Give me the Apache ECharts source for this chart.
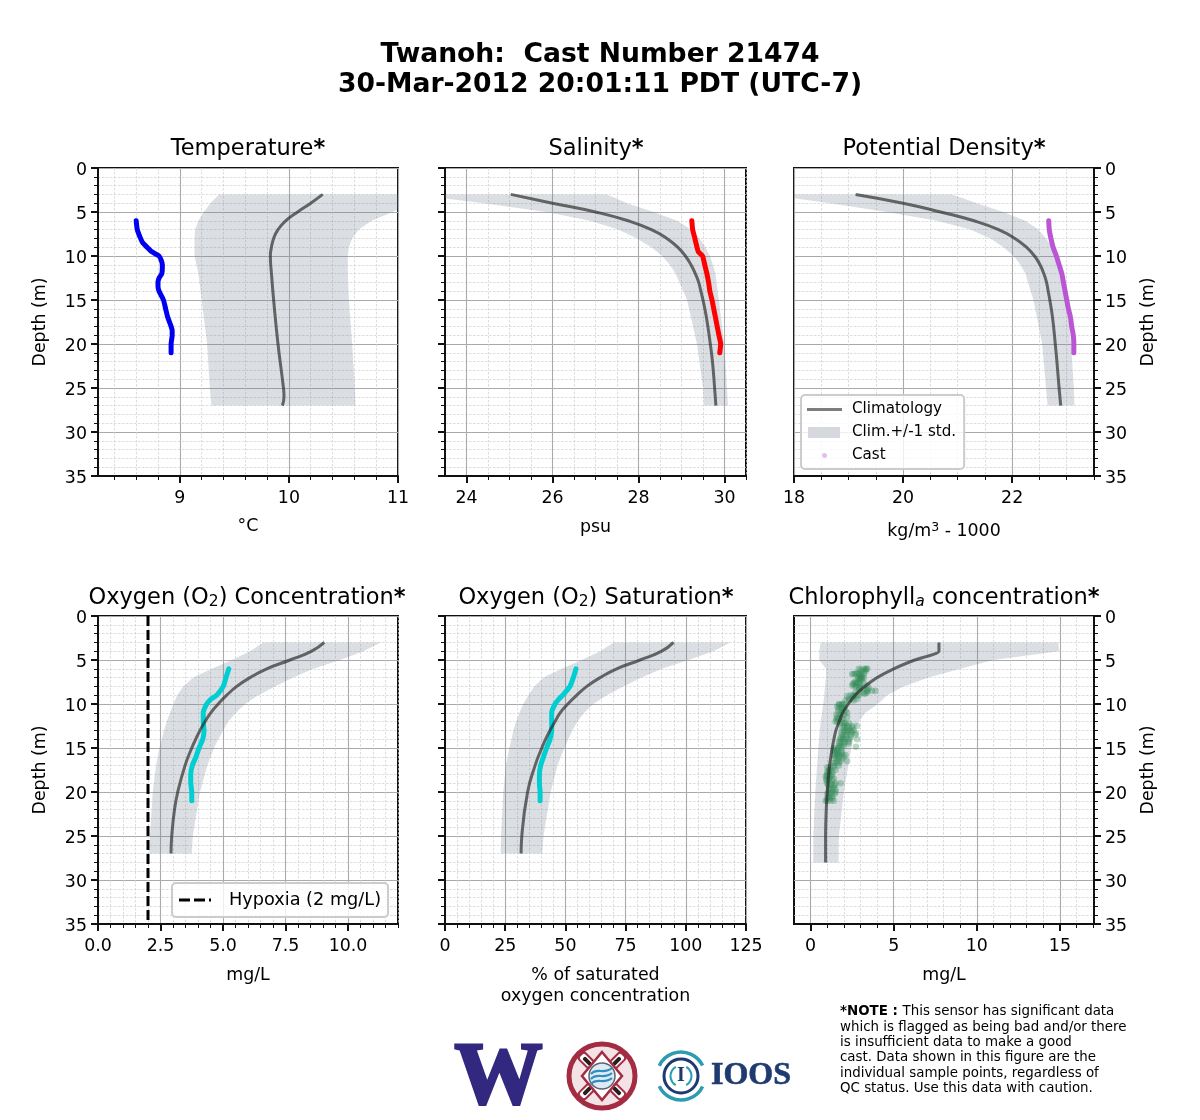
<!DOCTYPE html>
<html><head><meta charset="utf-8">
<style>html,body{margin:0;padding:0;background:#fff}#c{width:1200px;height:1120px}</style>
<script src="https://cdn.jsdelivr.net/npm/echarts@6/dist/echarts.min.js"></script>
</head><body><div id="c"></div>
<script>
const chartTitle1 = 'Twanoh:  Cast Number 21474';
const chartTitle2 = '30-Mar-2012 20:01:11 PDT (UTC-7)';

// Temperature
const tempClimDepth = [3,4,5,6,7,8,9,10,12,15,20,25,26,27];
const tempClim = [10.31,10.2,10.08,9.97,9.9,9.86,9.84,9.83,9.84,9.86,9.9,9.95,9.955,9.94];
const tempBandDepth = [3,4,4.7,5,6,7,8,9,10,12,15,20,25,27];
const tempLow = [9.36,9.28,9.24,9.22,9.17,9.14,9.135,9.135,9.135,9.17,9.2,9.25,9.275,9.29];
const tempHigh = [11.4,11.2,11.0,10.95,10.76,10.64,10.58,10.55,10.54,10.54,10.55,10.58,10.605,10.61];
const tempCastDepth = [6,7,8,8.5,9,9.5,10,10.5,11,12,12.5,13,13.5,14,15,16,17,18,18.5,19,20,21];
const tempCast = [8.6,8.61,8.64,8.66,8.7,8.74,8.81,8.83,8.84,8.835,8.81,8.8,8.8,8.81,8.85,8.87,8.89,8.92,8.93,8.93,8.92,8.92];

// Salinity
const salClimDepth = [3,4,5,6,7,8,9,10,11,12,13,14,15,17,20,22,25,27];
const salClim = [25.03,26,27,27.76,28.3,28.66,28.91,29.09,29.22,29.32,29.4,29.45,29.5,29.58,29.67,29.72,29.77,29.8];
const salBandDepth = [3,3.45,4,5,6,7,8,9,10,11,12,15,20,25,27];
const salLow = [23.2,23.49,24.4,25.85,26.87,27.53,27.96,28.3,28.55,28.73,28.86,29.13,29.36,29.5,29.52];
const salHigh = [27.26,27.48,27.73,28.35,28.9,29.22,29.42,29.56,29.66,29.73,29.79,29.87,29.99,30.06,30.08];
const salCastDepth = [6,7,8,9,9.5,10,11,12,13,14,15,16,17,18,19,20,21];
const salCast = [29.24,29.26,29.31,29.36,29.39,29.49,29.54,29.59,29.63,29.66,29.71,29.75,29.79,29.83,29.87,29.91,29.89];

// Potential density
const denClimDepth = [3,4,5,6,7,8,9,10,11,12,13,14,15,17,20,22,25,27];
const denClim = [19.13,20,20.69,21.3,21.75,22.05,22.26,22.41,22.51,22.58,22.63,22.66,22.69,22.74,22.79,22.82,22.86,22.89];
const denBandDepth = [3,3.45,4,5,6,7,8,9,10,11,12,15,20,25,27];
const denLow = [17.7,18,18.66,19.7,20.62,21.23,21.6,21.84,22.03,22.15,22.24,22.39,22.55,22.62,22.65];
const denHigh = [20.89,21.1,21.35,21.84,22.24,22.48,22.62,22.73,22.82,22.87,22.91,23,23.08,23.13,23.14];
const denCastDepth = [6,7,8,9,9.5,10,11,12,13,14,15,16,17,18,19,20,21];
const denCast = [22.67,22.68,22.71,22.75,22.78,22.81,22.86,22.91,22.94,22.97,23,23.03,23.07,23.09,23.12,23.13,23.13];

// Oxygen concentration
const oxcClimDepth = [3,4,5,6,7,8,9,10,11,12,13,14,15,17,20,22,25,27];
const oxcClim = [9.05,8.55,7.68,6.75,6.08,5.55,5.15,4.81,4.51,4.28,4.08,3.91,3.75,3.48,3.19,3.06,2.95,2.92];
const oxcBandDepth = [3,4,5,6,7,8,9,10,11,12,13,14,15,17,20,25,27];
const oxcLow = [6.61,6.08,5.35,4.55,3.81,3.41,3.17,3.01,2.88,2.75,2.64,2.55,2.45,2.32,2.19,2.08,2.05];
const oxcHigh = [11.31,10.61,9.68,8.61,7.81,7.08,6.41,5.88,5.52,5.21,5.01,4.81,4.64,4.37,4.08,3.79,3.75];
const oxcCastDepth = [6,7,8,9,9.5,10,11,12,13,14,15,16,17,18,19,20,21];
const oxcCast = [5.23,5.12,5.01,4.75,4.5,4.35,4.21,4.21,4.24,4.19,4.04,3.92,3.77,3.71,3.71,3.75,3.75];
const hypoxiaX = [2,2];
const hypoxiaDepth = [0,35];

// Oxygen saturation
const oxsClimDepth = [3,4,5,6,7,8,9,10,11,12,13,14,15,17,20,25,27];
const oxsClim = [94.9,90,81,71.3,64.4,58.9,54.7,51,47.8,45.7,43.6,41.8,40.2,37.4,34.3,31.9,31.6];
const oxsBandDepth = [3,4,5,6,7,8,9,10,11,12,13,14,15,17,20,25,27];
const oxsLow = [70,64.4,56.8,48.5,40.9,37.1,34.6,32.5,30.9,29.5,28.4,27.6,26.7,25.3,24.2,23.3,23.1];
const oxsHigh = [118.4,111.5,101.1,90,81.7,74.1,67.2,61.6,57.8,55,52.9,51.2,49.6,46.7,43.9,40.9,40.4];
const oxsCastDepth = [6,7,8,9,9.5,10,11,12,13,14,15,16,17,18,19,20,21];
const oxsCast = [54.4,53.3,51.9,48.9,47.1,45.7,44.3,44.3,44.3,43.6,42.2,40.9,39.7,39.2,39.2,39.5,39.5];

// Chlorophyll
const chlClimDepth = [3,4,5,6,7,8,9,10,11,12,13,14,15,17,20,22,25,28];
const chlClim = [7.72,7.72,6.26,5,4,3.27,2.67,2.27,1.92,1.72,1.52,1.4,1.3,1.14,1,0.94,0.9,0.9];
const chlBandDepth = [3,4,5,6,7,8,9,10,11,12,13,15,20,25,28];
const chlLow = [0.6,0.52,0.52,0.92,0.92,0.86,0.82,0.76,0.68,0.6,0.55,0.46,0.28,0.16,0.16];
const chlHigh = [14.9,14.96,11,9,7.1,5.6,4.6,4.05,3.3,2.9,2.7,2.45,2,1.7,1.68];
const chlCastDepth = [6,6,6,6,6.3,6.3,6.6,6.6,6.6,6.6,6.6,7,7,7,7.2,7.2,7.6,7.6,7.6,7.9,7.9,7.9,7.9,8.2,8.2,8.2,8.5,8.5,8.5,8.8,8.8,9,9,9,9.4,9.4,9.4,10.1,10.1,10.5,10.5,10.5,11,11,11.5,11.5,11.5,12,12,12,12.5,12.5,12.5,12.5,13,13,13,13,13.3,13.5,13.5,13.5,13.5,14,14,14,14,14.8,14.8,14.8,14.85,15.2,15.2,15.6,15.6,15.6,16,16,16,16.5,16.5,16.5,17,17,17.5,17.5,17.5,18,18,18,18.5,18.5,18.5,19,19,19,19,19.5,19.5,20,20,20,20.5,20.5,21,21,21,21,
 6.1,6.1,6.5,6.5,6.8,6.8,7.1,7.1,7.4,7.4,7.7,7.7,7.7,8.1,8.1,8.4,8.4,8.7,8.7,8.7,9.1,9.1,9.1,9.6,9.6,9.6,10,10,10,10.3,10.3,10.3,10.8,10.8,10.8,11.2,11.2,11.2,11.7,11.7,11.7,12.2,12.2,12.2,12.2,12.7,12.7,12.7,12.7,13.2,13.2,13.2,13.2,13.8,13.8,13.8,13.8,14.3,14.3,14.3,14.3,14.5,14.5,14.5,15,15,15,15.4,15.4,15.4,15.8,15.8,15.8,15.8,16.2,16.2,16.2,16.7,16.7,16.7,17.2,17.2,17.2,17.7,17.7,17.7,18.2,18.2,18.2,18.2,18.7,18.7,18.7,19.2,19.2,19.2,19.7,19.7,19.7,20.2,20.2,20.2,20.7,20.7,20.7];
const chlCast = [2.9,3.2,3.4,3.35,3.3,3.1,2.6,2.5,2.7,3,3.2,3,3.1,3.2,2.9,3.1,2.6,2.8,3.2,2.5,2.7,2.95,3.4,3,3.2,3.5,3.4,3.7,3.9,3.2,3.3,2.4,2.6,2.9,2.3,2.5,2.8,1.7,1.9,1.7,1.9,2,1.9,2.2,1.6,1.8,2.2,1.6,1.5,1.9,2,2.2,2.5,2.8,2,2.2,2.4,2.6,2.73,1.9,2.1,2.4,2.7,1.8,2,2.3,2.8,1.7,2,1.8,2.73,1.4,1.6,1.5,1.7,1.9,1.5,1.7,2,1.6,1.8,2.2,1.4,1.7,1.1,1.2,1.5,1,1.1,1.3,0.95,1.1,1.4,1,1.2,1.5,1.8,1.2,1.4,1.1,1.3,1.5,1.1,1.3,0.9,1,1.2,1.4,
 3,3.3,2.75,2.9,2.9,3.05,2.85,3,2.7,2.95,2.55,2.75,3,2.7,2.9,2.9,3.4,2.7,3,3.4,2.2,2.55,2.75,2.1,2.3,2.6,1.7,1.85,2,1.6,1.8,2.05,1.65,1.85,2.1,1.55,1.75,2,1.55,1.7,1.95,1.75,2,2.1,2.3,1.9,2.1,2.3,2.5,1.85,2.05,2.25,2.45,1.8,1.95,2.15,2.4,1.7,1.85,2.05,2.25,1.75,2,2.3,1.45,1.65,1.85,1.45,1.6,1.85,1.4,1.6,1.8,2.1,1.45,1.65,1.9,1.35,1.5,1.7,1,1.15,1.4,1,1.1,1.3,0.9,1,1.15,1.25,0.95,1.1,1.3,1.05,1.25,1.45,1.1,1.3,1.5,1,1.2,1.45,1,1.15,1.3];

const tempMajor=[9,10,11], tempMinor=[8.4,8.6,8.8,9.2,9.4,9.6,9.8,10.2,10.4,10.6,10.8];
const salMajor=[24,26,28,30], salMinor=[24.5,25,25.5,26.5,27,27.5,28.5,29,29.5,30.5];
const denMajor=[18,20,22], denMinor=[18.5,19,19.5,20.5,21,21.5,22.5,23,23.5];
const oxcMajor=[0,2.5,5,7.5,10], oxcMinor=[0.5,1,1.5,2,3,3.5,4,4.5,5.5,6,6.5,7,8,8.5,9,9.5,10.5,11,11.5,12];
const oxsMajor=[0,25,50,75,100,125], oxsMinor=[5,10,15,20,30,35,40,45,55,60,65,70,80,85,90,95,105,110,115,120];
const chlMajor=[0,5,10,15], chlMinor=[1,2,3,4,6,7,8,9,11,12,13,14,16,17];

const FONT='DejaVu Sans';
const BAND='rgba(112,128,144,0.25)';
const CLIM='rgba(40,40,40,0.68)';
const pair=(xs,ys)=>xs.map((x,i)=>[x,ys[i]]);

const panels=[
 {l:98,t:168,w:300,min:8.25,max:11,major:tempMajor,minor:tempMinor,name:'{n|°C}',nameGap:40,side:'left',smooth:0.5,
  cd:tempClimDepth,c:tempClim,bd:tempBandDepth,lo:tempLow,hi:tempHigh,sd:tempCastDepth,s:tempCast,col:'#0000f0',title:'{t|Temperature}{b|*}',tx:248},
 {l:445,t:168,w:301,min:23.5,max:30.5,major:salMajor,minor:salMinor,name:'{n|psu}',nameGap:41,side:'none',smooth:0.5,
  cd:salClimDepth,c:salClim,bd:salBandDepth,lo:salLow,hi:salHigh,sd:salCastDepth,s:salCast,col:'#ff0000',title:'{t|Salinity}{b|*}',tx:596},
 {l:794,t:168,w:300,min:18,max:23.5,major:denMajor,minor:denMinor,name:'{n|kg/m}{u|3}{n| - 1000}',nameGap:45,side:'right',smooth:0.5,
  cd:denClimDepth,c:denClim,bd:denBandDepth,lo:denLow,hi:denHigh,sd:denCastDepth,s:denCast,col:'#ba55d3',title:'{t|Potential Density}{b|*}',tx:944},
 {l:98,t:616,w:300,min:0,max:12,major:oxcMajor,minor:oxcMinor,fmt:v=>v.toFixed(1),name:'{n|mg/L}',nameGap:41,side:'left',smooth:0.5,
  cd:oxcClimDepth,c:oxcClim,bd:oxcBandDepth,lo:oxcLow,hi:oxcHigh,sd:oxcCastDepth,s:oxcCast,col:'#00ced1',title:'{t|Oxygen (O}{s|2}{t|) Concentration}{b|*}',tx:247},
 {l:445,t:616,w:301,min:0,max:125,major:oxsMajor,minor:oxsMinor,name:'{n|% of saturated}\n{n|oxygen concentration}',nameGap:41,side:'none',smooth:0.5,
  cd:oxsClimDepth,c:oxsClim,bd:oxsBandDepth,lo:oxsLow,hi:oxsHigh,sd:oxsCastDepth,s:oxsCast,col:'#00ced1',title:'{t|Oxygen (O}{s|2}{t|) Saturation}{b|*}',tx:596},
 {l:794,t:616,w:300,min:-1,max:17.05,major:chlMajor,minor:chlMinor,name:'{n|mg/L}',nameGap:41,side:'right',smooth:0.2,
  cd:chlClimDepth,c:chlClim,bd:chlBandDepth,lo:chlLow,hi:chlHigh,sd:chlCastDepth,s:chlCast,scatter:true,col:'rgba(46,139,87,0.42)',title:'{t|Chlorophyll}{i|a}{t| concentration}{b|*}',tx:944},
];
const H=308;
const TF=22.5;
const rich={t:{fontFamily:FONT,fontSize:TF,fontWeight:'normal',color:'#000'},b:{fontFamily:FONT,fontSize:TF,fontWeight:'bold',color:'#000'},
  s:{fontFamily:FONT,fontSize:15.5,fontWeight:'normal',color:'#000',verticalAlign:'bottom',padding:[8,0,0,0]},
  i:{fontFamily:FONT,fontSize:15.5,fontWeight:'normal',fontStyle:'italic',color:'#000',verticalAlign:'bottom',padding:[8,0,0,0]}};
const AF=17.4;
const nameRich={n:{fontFamily:FONT,fontSize:AF,color:'#000',lineHeight:21},u:{fontFamily:FONT,fontSize:12.5,color:'#000',verticalAlign:'top',lineHeight:21}};
const yLabelRich={a:{fontFamily:FONT,fontSize:AF,color:'#000',padding:[4,0,0,0]}};

const grid=[],xAxis=[],yAxis=[],series=[];
const title=[
 {text:chartTitle1,left:600,top:42,textAlign:'center',textStyle:{fontFamily:FONT,fontWeight:'bold',fontSize:26.6,color:'#000'},padding:0},
 {text:chartTitle2,left:600,top:72,textAlign:'center',textStyle:{fontFamily:FONT,fontWeight:'bold',fontSize:26.6,color:'#000'},padding:0},
];
const lineS={color:'#111',width:2};
panels.forEach((p,i)=>{
  grid.push({left:p.l,top:p.t,width:p.w,height:H,show:true,borderColor:'#111',borderWidth:2,backgroundColor:'transparent'});
  title.push({text:p.title,left:p.tx,top:p.t-30,textAlign:'center',padding:0,textStyle:{rich,fontFamily:FONT,fontSize:TF,fontWeight:'normal'}});
  xAxis.push({gridIndex:i,type:'value',position:'bottom',min:p.min,max:p.max,
    name:p.name,nameLocation:'middle',nameGap:p.nameGap,nameTextStyle:{rich:nameRich,verticalAlign:'top'},
    axisLine:{onZero:false,lineStyle:lineS},
    axisTick:{show:true,length:7,lineStyle:{color:'#111',width:2},customValues:p.major},
    axisLabel:{show:true,customValues:p.major,margin:14,fontFamily:FONT,fontSize:AF,color:'#000',formatter:p.fmt||(v=>String(v)),hideOverlap:false},
    splitLine:{show:true,lineStyle:{color:'#aaa',width:1.1}}});
  xAxis.push({gridIndex:i,type:'value',position:'bottom',min:p.min,max:p.max,
    axisLine:{show:false,onZero:false},
    axisTick:{show:true,length:4,lineStyle:{color:'#111',width:1},customValues:p.minor},
    axisLabel:{show:false},
    splitLine:{show:true,lineStyle:{color:'#cfcfcf',width:0.7,type:[2.5,1.5]}}});
  const right=p.side==='right';
  yAxis.push({gridIndex:i,type:'value',inverse:true,min:0,max:35,interval:5,position:right?'right':'left',
    name:p.side==='none'?'':'Depth (m)',nameLocation:'middle',nameRotate:90,nameGap:right?46:49,
    nameTextStyle:{fontFamily:FONT,fontSize:AF,color:'#000'},
    axisLine:{onZero:false,lineStyle:lineS},
    axisTick:{show:true,length:7,lineStyle:{color:'#111',width:2}},
    minorTick:{show:true,splitNumber:5,length:4,lineStyle:{color:'#111',width:1}},
    axisLabel:{show:p.side!=='none',margin:11,formatter:v=>'{a|'+v+'}',rich:yLabelRich},
    splitLine:{show:true,lineStyle:{color:'#aaa',width:1.1}},
    minorSplitLine:{show:true,lineStyle:{color:'#cfcfcf',width:0.7,type:[2.5,1.5]}}});
  const xi=i*2;
  const bandRows=p.bd.map((d,k)=>[p.lo[k],d,p.hi[k]]);
  series.push({type:'custom',name:'Clim.+/-1 std.',xAxisIndex:xi,yAxisIndex:i,coordinateSystem:'cartesian2d',clip:true,silent:true,
    itemStyle:{color:BAND},encode:{x:0,y:1},data:bandRows,z:2,
    renderItem:(params,api)=>{
      if(params.dataIndex!==0)return null;
      const left=bandRows.map(r=>api.coord([r[0],r[1]]));
      const rightEdge=bandRows.map(r=>api.coord([r[2],r[1]])).reverse();
      return {type:'polygon',shape:{points:left.concat(rightEdge)},style:{fill:BAND}};
    }});
  if(p.scatter){
    series.push({type:'scatter',name:'Cast',xAxisIndex:xi,yAxisIndex:i,data:pair(p.s,p.sd),symbol:'circle',symbolSize:6.5,itemStyle:{color:p.col},z:3,silent:true});
  } else {
    series.push({type:'line',name:'Cast',xAxisIndex:xi,yAxisIndex:i,data:pair(p.s,p.sd),showSymbol:false,smooth:0.2,
      lineStyle:{color:p.col,width:5,cap:'round',join:'round'},itemStyle:{color:p.col},z:3,silent:true});
  }
  series.push({type:'line',name:'Climatology',xAxisIndex:xi,yAxisIndex:i,data:pair(p.c,p.cd),showSymbol:false,smooth:p.smooth,
    lineStyle:{color:CLIM,width:3},itemStyle:{color:CLIM},z:4,silent:true});
});
series.push({type:'line',name:'Hypoxia (2 mg/L)',xAxisIndex:6,yAxisIndex:3,data:pair(hypoxiaX,hypoxiaDepth),showSymbol:false,
  lineStyle:{color:'#000',width:3,type:[10,4]},itemStyle:{color:'#000'},z:5,silent:true});

const ICON_LINE='path://M0 0L0 0M35 15L35 15M0 6h35v3H0z';
const ICON_BAND='path://M0 0L0 0M35 15L35 15M1 2h32v11H1z';
const ICON_DOT='path://M0 0L0 0M35 15L35 15M17.5 5a2.5 2.5 0 1 0 0.01 0z';
const ICON_DASH='path://M0 0L0 0M35 15L35 15M1 6h11v3H1zM16 6h11v3H16zM31 6h2v3h-2z';
const legendBase={orient:'vertical',selectedMode:false,itemWidth:35,itemHeight:15,borderColor:'#ccc',borderWidth:2,borderRadius:4,backgroundColor:'rgba(255,255,255,0.8)',z:10};
const legend=[
 Object.assign({},legendBase,{left:801,top:395,padding:[7,8,6,6],itemGap:8,textStyle:{fontFamily:FONT,fontSize:15.1,color:'#000',padding:[0,0,0,5]},
  data:[{name:'Climatology',icon:ICON_LINE,itemStyle:{color:'#7d7d7d'}},
        {name:'Clim.+/-1 std.',icon:ICON_BAND,itemStyle:{color:'#d5d9de'}},
        {name:'Cast',icon:ICON_DOT,itemStyle:{color:'#e3bdf0'}}]}),
 Object.assign({},legendBase,{left:172,top:883,padding:[8,7,8,6],textStyle:{fontFamily:FONT,fontSize:17.7,color:'#000',padding:[0,0,0,11]},
  data:[{name:'Hypoxia (2 mg/L)',icon:ICON_DASH,itemStyle:{color:'#000'}}]}),
];

// note
const noteFont={fontFamily:FONT,fontSize:13.4,fill:'#000'};
const noteLines=['  This sensor has significant data','which is flagged as being bad and/or there','is insufficient data to make a good','cast. Data shown in this figure are the','individual sample points, regardless of','QC status. Use this data with caution.'];
const noteY=[1012,1028,1043,1058,1074,1089];
const g=[];
noteLines.forEach((t,i)=>{
  if(i===0){
    g.push({type:'text',x:840,y:noteY[0],style:{text:'{b|*NOTE : }{r|'+t.trim()+'}',verticalAlign:'middle',rich:{b:{fontFamily:FONT,fontSize:13.4,fontWeight:'bold',fill:'#000',color:'#000'},r:{fontFamily:FONT,fontSize:13.4,color:'#000',fill:'#000'}}}});
  } else g.push({type:'text',x:840,y:noteY[i],style:Object.assign({text:t,verticalAlign:'middle'},noteFont)});
});
// logos
const UW='#33287f',RED='#a32c42',NAVY='#1f3a70',TEAL='#2c9cb0';
g.push({type:'text',x:498.5,y:1080,style:{text:'W',fontFamily:'Liberation Serif',fontWeight:'bold',fontSize:88,fill:UW,stroke:UW,lineWidth:3,textAlign:'center',verticalAlign:'middle'}});
g.push({type:'ellipse',shape:{cx:602,cy:1076,rx:33,ry:32},style:{fill:'#f3e3e6',stroke:RED,lineWidth:5}});
[[-45],[45],[135],[225]].forEach(a=>{
  const r=a[0]*Math.PI/180,cx=602+21*Math.cos(r),cy=1076+21*Math.sin(r);
  g.push({type:'rect',x:cx,y:cy,rotation:-r+Math.PI/2,shape:{x:-4.5,y:-9,width:9,height:18,r:3},style:{fill:'#fff',stroke:RED,lineWidth:2}});
  g.push({type:'rect',x:cx,y:cy,rotation:-r+Math.PI/2,shape:{x:-2,y:-5,width:4,height:10,r:1.5},style:{fill:'#2a1c20'}});
});
g.push({type:'polygon',shape:{points:[[602,1052],[622,1076],[602,1100],[582,1076]]},style:{fill:'#fff',stroke:RED,lineWidth:2.5}});
g.push({type:'circle',shape:{cx:602,cy:1076,r:13},style:{fill:'#dfeaf3',stroke:'#5b6270',lineWidth:1.5}});
[[1071],[1076],[1081]].forEach(a=>g.push({type:'bezierCurve',shape:{x1:591,y1:a[0]+3,x2:612,y2:a[0]-3,cpx1:597,cpy1:a[0]-4,cpx2:604,cpy2:a[0]+4},style:{fill:'none',stroke:'#2f8fc0',lineWidth:2.2}}));
g.push({type:'arc',shape:{cx:681,cy:1076,r:24,startAngle:-2.7,endAngle:-0.45},style:{fill:'none',stroke:TEAL,lineWidth:3.5}});
g.push({type:'arc',shape:{cx:681,cy:1076,r:24,startAngle:0.45,endAngle:2.7},style:{fill:'none',stroke:TEAL,lineWidth:3.5}});
g.push({type:'circle',shape:{cx:681,cy:1076,r:17},style:{fill:'#fff',stroke:NAVY,lineWidth:3}});
g.push({type:'arc',shape:{cx:681,cy:1076,r:10.5,startAngle:2.1,endAngle:4.2},style:{fill:'none',stroke:TEAL,lineWidth:2}});
g.push({type:'arc',shape:{cx:681,cy:1076,r:10.5,startAngle:-1.05,endAngle:1.05},style:{fill:'none',stroke:TEAL,lineWidth:2}});
g.push({type:'text',x:681,y:1076,style:{text:'I',fontFamily:'Liberation Serif',fontWeight:'bold',fontSize:20,fill:NAVY,textAlign:'center',verticalAlign:'middle'}});
g.push({type:'text',x:711,y:1076,style:{text:'IOOS',fontFamily:'Liberation Serif',fontWeight:'bold',fontSize:32,fill:NAVY,stroke:NAVY,lineWidth:0.6,textAlign:'left',verticalAlign:'middle'}});

const chart=echarts.init(document.getElementById('c'),null,{renderer:'canvas'});
chart.setOption({animation:false,backgroundColor:'#fff',textStyle:{fontFamily:FONT},title,grid,xAxis,yAxis,legend,series,graphic:g});
</script></body></html>
